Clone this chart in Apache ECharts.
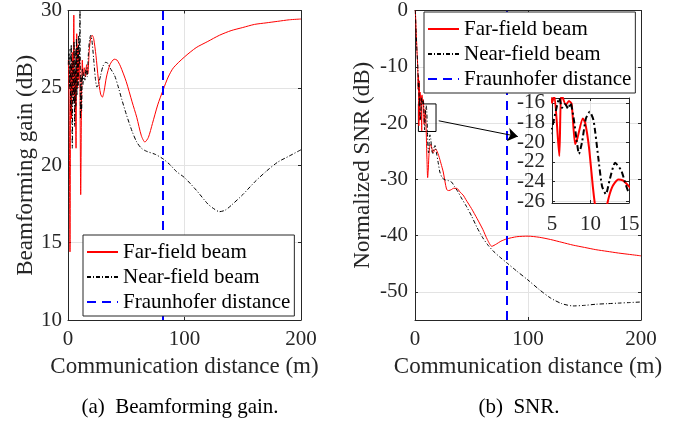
<!DOCTYPE html>
<html>
<head>
<meta charset="utf-8">
<script src="https://cdn.jsdelivr.net/npm/echarts@6/dist/echarts.min.js"></script>
<style>
  html, body { margin: 0; padding: 0; background: #fff; }
  #chart { width: 691px; height: 421px; }
</style>
</head>
<body>
<div id="chart"></div>
<script>
// (a) beamforming gain, dB
const gainFarX = [0.3, 1, 1.7, 2.4, 3, 3.6, 4.2, 5, 5.5, 6, 6.9, 7.5, 8.1, 8.7, 9.3, 10, 10.9, 11.6, 12.3, 13, 14, 15, 16, 17, 18.3, 19.5, 20.8, 22, 24, 26, 28, 29.5, 31, 33, 36, 39.7, 42, 45, 50, 55, 59, 63, 66, 69, 72.5, 77, 81.8, 86, 90.5, 100, 110, 120, 130, 140, 150, 160, 170, 180, 190, 200];
const gainFarY = [26.8, 24, 14.4, 26.5, 23, 27.3, 24.5, 29.7, 24, 26, 21.1, 28.5, 25, 27.8, 25.5, 27, 18.1, 24, 26.8, 25.8, 26.3, 25.7, 26.5, 25.9, 27.5, 28.2, 28.4, 28.2, 27.1, 25.6, 24.6, 24.4, 24.8, 25.7, 26.5, 26.85, 26.8, 26.4, 25.4, 24.1, 23.1, 21.9, 21.5, 21.8, 22.7, 23.9, 24.9, 25.7, 26.3, 27.0, 27.6, 28.0, 28.4, 28.7, 28.9, 29.1, 29.2, 29.3, 29.4, 29.45];
const gainNearX = [0.3, 0.8, 1.3, 1.8, 2.3, 2.8, 3.3, 3.7, 4.2, 4.7, 5.2, 5.7, 6.2, 6.7, 7.2, 7.7, 8.2, 8.7, 9.2, 9.7, 10.3, 10.7, 11.2, 11.7, 12.3, 12.8, 13.7, 14.5, 15.5, 16.5, 17.5, 18.5, 19.5, 20.5, 22, 23.5, 24.8, 26, 28, 30, 32.3, 34, 36, 40, 43, 46, 50, 55, 59, 63, 67.5, 75, 81.8, 88, 93, 100, 110, 120, 125, 130, 135, 140, 150, 160, 170, 180, 190, 200];
const gainNearY = [26.5, 27.2, 25, 27.5, 23.5, 27.8, 24, 21.1, 26.8, 24, 28, 22.5, 27.5, 23.8, 28.2, 24.5, 27.6, 25, 28.4, 26.5, 30, 23, 25.8, 23.5, 26.2, 25.2, 26.0, 25.5, 26.3, 25.7, 27.2, 28.1, 28.4, 28.1, 26.9, 25.6, 25.05, 25.2, 25.8, 26.4, 26.65, 26.6, 26.3, 25.8, 25.1, 24.3, 23.3, 22.2, 21.5, 21.1, 20.9, 20.7, 20.4, 20.0, 19.6, 19.2, 18.4, 17.5, 17.2, 17.0, 17.1, 17.4, 18.1, 18.9, 19.6, 20.2, 20.6, 21.0];

// (b) normalized SNR, dB
const snrFarX = [0.3, 1, 1.7, 2.4, 2.8, 3.1, 3.4, 3.8, 4.2, 4.6, 5, 5.3, 5.95, 6.2, 6.8, 7.2, 7.55, 8, 8.3, 9, 9.3, 9.8, 10.3, 10.6, 11.2, 11.7, 12.2, 12.8, 13.6, 14.2, 15, 16, 17, 18, 19.5, 21, 23, 25, 28, 30, 32.4, 34, 36.9, 40, 42.6, 45, 50, 55, 60, 64, 68, 72, 76, 81, 90, 100, 110, 120, 130, 140, 150, 160, 170, 180, 190, 200];
const snrFarY = [0, -3.5, -7, -10, -14, -11.5, -20.5, -12.5, -19.5, -14.5, -16, -15.2, -21.4, -15, -16.2, -15.8, -16.1, -20.2, -19.6, -17.6, -18, -20.5, -24.5, -26.5, -29.7, -28.5, -26.2, -24.6, -23.8, -23.9, -24.5, -25.3, -25, -24.6, -25, -25.8, -27.2, -28.7, -31.8, -32, -31.8, -31.6, -31.6, -32.3, -32.8, -33.6, -35.2, -37, -38.9, -40.7, -41.9, -41.5, -41, -40.6, -40.2, -40.1, -40.3, -40.7, -41.2, -41.7, -42.1, -42.5, -42.8, -43.1, -43.35, -43.6];
const snrNearX = [0.3, 1, 1.8, 2.6, 3, 3.4, 3.8, 4.2, 4.6, 5, 5.5, 5.95, 6.3, 6.7, 7.1, 7.4, 7.8, 8.2, 8.5, 8.9, 9.4, 9.9, 10.4, 11, 11.5, 12, 12.5, 13.2, 14, 14.9, 15.8, 16.8, 17.7, 19, 20.5, 22, 24, 26.5, 29, 32.4, 35, 38, 41, 45.5, 50, 55, 60, 65, 70, 75, 81, 90, 100, 110, 120, 130, 140, 150, 160, 170, 180, 190, 200];
const snrNearY = [0, -4, -7.5, -10.5, -14, -12.5, -17, -15.5, -19.5, -18.6, -16.8, -15.5, -16.5, -16.1, -16.6, -16.0, -17.5, -19.8, -21.2, -20.0, -17.6, -16.9, -17.8, -21.5, -24.5, -25.3, -23.8, -22.1, -22.9, -25.0, -25.4, -24.4, -24.0, -25.3, -27.0, -28.7, -29.7, -30.1, -30.2, -30.5, -31.3, -32.2, -33.3, -34.8, -36.5, -38.6, -40.4, -41.8, -42.9, -43.8, -44.8, -46.3, -47.9, -49.6, -51.1, -52.1, -52.5, -52.4, -52.2, -52.1, -52.0, -51.9, -51.8];

const fraunhoferDistance = [81.6];
const seriesNames = ['Far-field beam', 'Near-field beam', 'Fraunhofer distance'];
const captions = ['(a)  Beamforming gain.', '(b)  SNR.'];
const xName = 'Communication distance (m)';
const yNames = ['Beamforming gain (dB)', 'Normalized SNR (dB)'];

// zoom box and arrow, in data units of panel (b)
const zoomBox = [[3, -16.6], [18.6, -21.5]];
const zoomArrow = [[21, -19.6], [91, -22.4]];

const FONT = 'Liberation Serif';
const AX = '#262626';
const GRID = '#e3e3e3';

function pairs(xs, ys) {
  return xs.map((x, i) => [x, ys[i]]);
}

function xAx(grid, min, max, split, opts) {
  return Object.assign({
    type: 'value', gridIndex: grid, min: min, max: max, splitNumber: split,
    axisLine: { show: true, onZero: false, lineStyle: { color: AX, width: 1 } },
    axisTick: { show: true, inside: true, length: 3, lineStyle: { color: AX } },
    axisLabel: { show: true, fontFamily: FONT, fontSize: 21, color: AX, margin: 9 },
    splitLine: { show: true, lineStyle: { color: GRID, width: 1 } }
  }, opts || {});
}

function mirror(base, pos) {
  return Object.assign({}, base, {
    position: pos, name: '',
    axisLabel: { show: false },
    splitLine: { show: false }
  });
}

const nameStyle = { fontFamily: FONT, fontSize: 23, color: AX };
const xs = [
  xAx(0, 0, 200, 2, { name: xName, nameLocation: 'middle', nameGap: 35, nameTextStyle: nameStyle }),
  xAx(2, 0, 200, 2, { name: xName, nameLocation: 'middle', nameGap: 35, nameTextStyle: nameStyle }),
  xAx(1, 5, 15, 2, { z: 4, axisLabel: { fontFamily: FONT, fontSize: 21, color: AX, margin: 11 } })
];
const ysBase = [
  xAx(0, 10, 30, 4, { axisLabel: { fontFamily: FONT, fontSize: 21, color: AX, margin: 6 }, name: yNames[0], nameLocation: 'middle', nameGap: 30, nameTextStyle: nameStyle }),
  xAx(2, -55, 0, 5, { axisLabel: { fontFamily: FONT, fontSize: 21, color: AX, margin: 7, showMinLabel: false }, name: yNames[1], nameLocation: 'middle', nameGap: 41, nameTextStyle: nameStyle }),
  xAx(1, -26.2, -15.5, 5, { z: 4, axisLabel: { fontFamily: FONT, fontSize: 21, color: AX, margin: 7, showMinLabel: false, showMaxLabel: false } })
];

const legendBase = {
  data: seriesNames, orient: 'vertical', z: 10,
  itemWidth: 31, itemHeight: 14, itemGap: 1, padding: [5, 4, 2, 3],
  borderColor: AX, borderWidth: 1, backgroundColor: '#fff', selectedMode: false,
  itemStyle: { opacity: 0 },
  textStyle: { fontFamily: FONT, fontSize: 21, color: '#000', lineHeight: 24 }
};

const option = {
  animation: false,
  backgroundColor: '#fff',
  grid: [
    { left: 68, top: 7, width: 233, height: 313, show: false },
    { left: 552, top: 98, width: 77, height: 105, show: true, z: 3, backgroundColor: '#fff', borderWidth: 0 },
    { left: 415, top: 6, width: 226, height: 314, show: false }
  ],
  xAxis: [xs[0], mirror(xs[0], 'top'), xs[1], mirror(xs[1], 'top'), xs[2], mirror(xs[2], 'top')],
  yAxis: [ysBase[0], mirror(ysBase[0], 'right'), ysBase[1], mirror(ysBase[1], 'right'), ysBase[2], mirror(ysBase[2], 'right')],
  title: [
    { text: captions[0], left: 175, top: 392, textAlign: 'center', textStyle: { fontFamily: FONT, fontSize: 21, fontWeight: 'normal', color: '#000' } },
    { text: captions[1], left: 514, top: 392, textAlign: 'center', textStyle: { fontFamily: FONT, fontSize: 21, fontWeight: 'normal', color: '#000' } }
  ],
  legend: [
    Object.assign({}, legendBase, { left: 83, top: 235 }),
    Object.assign({}, legendBase, { left: 424, top: 12 })
  ],
  series: [
    { name: seriesNames[0], type: 'line', xAxisIndex: 0, yAxisIndex: 0, data: pairs(gainFarX, gainFarY), symbol: 'none', smooth: 0.25, lineStyle: { color: '#ff0000', width: 1 }, itemStyle: { color: '#ff0000' } },
    { name: seriesNames[1], type: 'line', xAxisIndex: 0, yAxisIndex: 0, data: pairs(gainNearX, gainNearY), symbol: 'none', smooth: 0.25, lineStyle: { color: '#000', width: 1, type: [4, 2, 1, 2] }, itemStyle: { color: '#000' } },
    { name: seriesNames[2], type: 'line', xAxisIndex: 0, yAxisIndex: 0, data: [], symbol: 'none', lineStyle: { color: '#0000ff', width: 2, type: [9, 6] }, itemStyle: { color: '#0000ff' },
      markLine: { silent: true, symbol: 'none', label: { show: false }, lineStyle: { color: '#0000ff', width: 2, type: [9, 6] }, data: [{ xAxis: fraunhoferDistance[0] }] } },

    { name: seriesNames[0], type: 'line', xAxisIndex: 2, yAxisIndex: 2, data: pairs(snrFarX, snrFarY), symbol: 'none', smooth: 0.25, lineStyle: { color: '#ff0000', width: 1 }, itemStyle: { color: '#ff0000' } },
    { name: seriesNames[1], type: 'line', xAxisIndex: 2, yAxisIndex: 2, data: pairs(snrNearX, snrNearY), symbol: 'none', smooth: 0.25, lineStyle: { color: '#000', width: 1, type: [4, 2, 1, 2] }, itemStyle: { color: '#000' } },
    { name: seriesNames[2], type: 'line', xAxisIndex: 2, yAxisIndex: 2, data: [], symbol: 'none', lineStyle: { color: '#0000ff', width: 2, type: [9, 6] }, itemStyle: { color: '#0000ff' },
      markLine: { silent: true, symbol: 'none', label: { show: false }, lineStyle: { color: '#0000ff', width: 2, type: [9, 6] }, data: [{ xAxis: fraunhoferDistance[0] }] } },
    { type: 'line', xAxisIndex: 2, yAxisIndex: 2, data: [], symbol: 'none',
      markArea: { silent: true, label: { show: false }, itemStyle: { color: 'rgba(0,0,0,0)', borderColor: '#000', borderWidth: 1 },
        data: [[{ coord: zoomBox[0] }, { coord: zoomBox[1] }]] },
      markLine: { silent: true, symbol: ['none', 'arrow'], symbolSize: 10, label: { show: false }, lineStyle: { color: '#000', width: 1, type: 'solid' },
        data: [[{ coord: zoomArrow[0] }, { coord: zoomArrow[1] }]] } },

    { name: seriesNames[0], type: 'line', xAxisIndex: 4, yAxisIndex: 4, z: 5, data: pairs(snrFarX, snrFarY), symbol: 'none', smooth: 0.2, clip: true, lineStyle: { color: '#ff0000', width: 2 } },
    { name: seriesNames[1], type: 'line', xAxisIndex: 4, yAxisIndex: 4, z: 5, data: pairs(snrNearX, snrNearY), symbol: 'none', smooth: 0.2, clip: true, lineStyle: { color: '#000', width: 2, type: [6, 3, 2, 3] } }
  ]
};

const myChart = echarts.init(document.getElementById('chart'));
myChart.setOption(option);
window.addEventListener('resize', function () {
  myChart.resize();
});
</script>
</body>
</html>
